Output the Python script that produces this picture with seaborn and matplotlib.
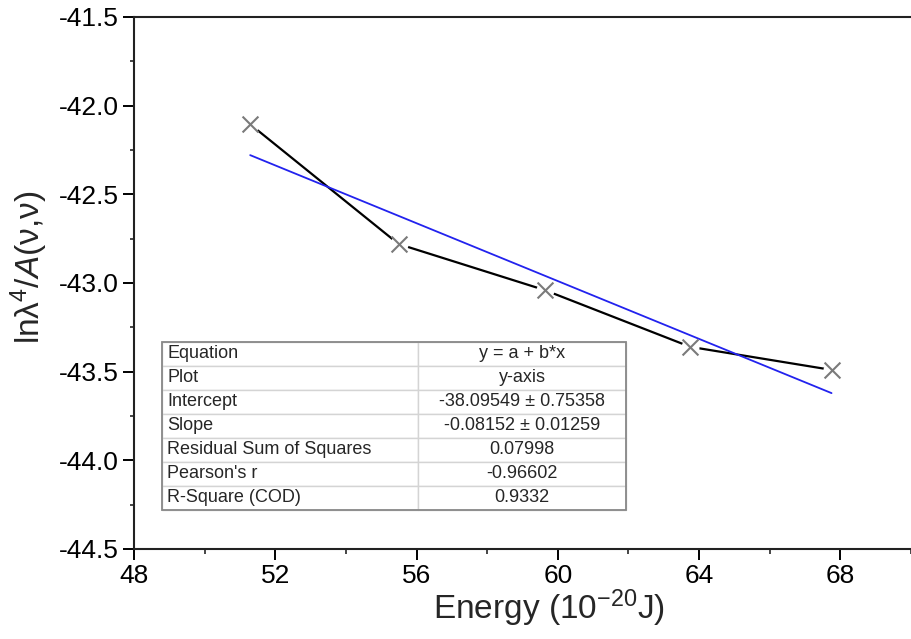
import numpy as np
import pandas as pd
import matplotlib
matplotlib.use("Agg")
import matplotlib.pyplot as plt
import seaborn as sns
from matplotlib.ticker import MultipleLocator
from matplotlib.patches import Rectangle

# ---- data ----
energy = [51.29, 55.49, 59.63, 63.75, 67.75]
ln_ratio = [-42.105, -42.78, -43.04, -43.36, -43.49]

table_labels = ["Equation", "Plot", "Intercept", "Slope",
                "Residual Sum of Squares", "Pearson's r", "R-Square (COD)"]
table_values = ["y = a + b*x", "y-axis", "-38.09549 \u00b1 0.75358",
                "-0.08152 \u00b1 0.01259", "0.07998", "-0.96602", "0.9332"]

xticks = [48, 52, 56, 60, 64, 68]
yticks = [-41.5, -42.0, -42.5, -43.0, -43.5, -44.0, -44.5]

df = pd.DataFrame({"energy": energy, "ln": ln_ratio})

sns.set_style("ticks")
plt.rcParams["font.family"] = ["Liberation Sans", "DejaVu Sans"]
plt.rcParams["mathtext.fontset"] = "custom"
plt.rcParams["mathtext.rm"] = "Liberation Sans"
plt.rcParams["mathtext.it"] = "Liberation Sans:italic"

fig = plt.figure(figsize=(9.11, 6.39), dpi=100)
ax = fig.add_axes([134 / 911, 1 - 549 / 639, 1 - 134 / 911, (549 - 17) / 639])

# black connecting line
sns.lineplot(data=df, x="energy", y="ln", sort=False, color="black",
             linewidth=1.6, ax=ax, zorder=2)
# white gaps around markers (Origin style)
ax.plot(df["energy"], df["ln"], linestyle="none", marker="o", markersize=13,
        markerfacecolor="white", markeredgecolor="none", zorder=3)
# gray cross markers
sns.scatterplot(data=df, x="energy", y="ln", marker="x", s=130, color="#7a7a7a",
                linewidth=1.5, ax=ax, zorder=5)
# linear fit
sns.regplot(data=df, x="energy", y="ln", scatter=False, ci=None, truncate=True,
            color="#2222ee", line_kws={"linewidth": 1.3, "zorder": 4}, ax=ax)

ax.set_xlim(48, 70)
ax.set_ylim(-44.5, -41.5)
ax.set_xticks(xticks)
ax.set_yticks(yticks)
ax.set_yticklabels([f"{v:.1f}" for v in yticks])
ax.xaxis.set_minor_locator(MultipleLocator(2))
ax.yaxis.set_minor_locator(MultipleLocator(0.25))

ax.tick_params(axis="both", which="major", direction="out", length=8, width=1.4,
               labelsize=19, color="black", labelcolor="black", pad=3)
ax.tick_params(axis="y", which="minor", direction="out", length=3, width=1.2)
ax.tick_params(axis="x", which="minor", direction="out", length=3.5, width=1.2)
ax.tick_params(top=False, right=False, which="both")

for side in ["left", "bottom", "top"]:
    ax.spines[side].set_visible(True)
    ax.spines[side].set_linewidth(1.5)
    ax.spines[side].set_color("#222222")
ax.spines["right"].set_visible(False)

ax.set_xlabel("Energy (10$^{-20}$J)", fontsize=24)
ax.set_ylabel("ln\u03bb$^{4}$/$\\mathit{A}$(\u03bd,\u03bd)", fontsize=24)
ax.xaxis.set_label_coords((549 - 134) / 777, -0.072)
ax.yaxis.set_label_coords((50 - 134) / 777, 0.53)

# fit results table
cell_text = [[a, b] for a, b in zip(table_labels, table_values)]
tbl = ax.table(cellText=cell_text, colWidths=[0.552, 0.448],
               bbox=[(162 - 134) / 777, (549 - 510) / 532,
                     (626 - 162) / 777, (510 - 342) / 532],
               zorder=6)
tbl.auto_set_font_size(False)
for (r, c), cell in tbl.get_celld().items():
    cell.set_edgecolor("#d4d4d4")
    cell.set_linewidth(1.0)
    cell.set_facecolor("white")
    cell.get_text().set_fontsize(13)
    if c == 0:
        cell.get_text().set_horizontalalignment("left")
        cell._loc = "left"
        cell.PAD = 0.02
    else:
        cell.get_text().set_horizontalalignment("center")
        cell._loc = "center"
ax.add_patch(Rectangle(((162 - 134) / 777, (549 - 510) / 532),
                       (626 - 162) / 777, (510 - 342) / 532,
                       transform=ax.transAxes, fill=False, edgecolor="#888888",
                       linewidth=1.3, zorder=7))

fig.savefig("out.png", dpi=100)
